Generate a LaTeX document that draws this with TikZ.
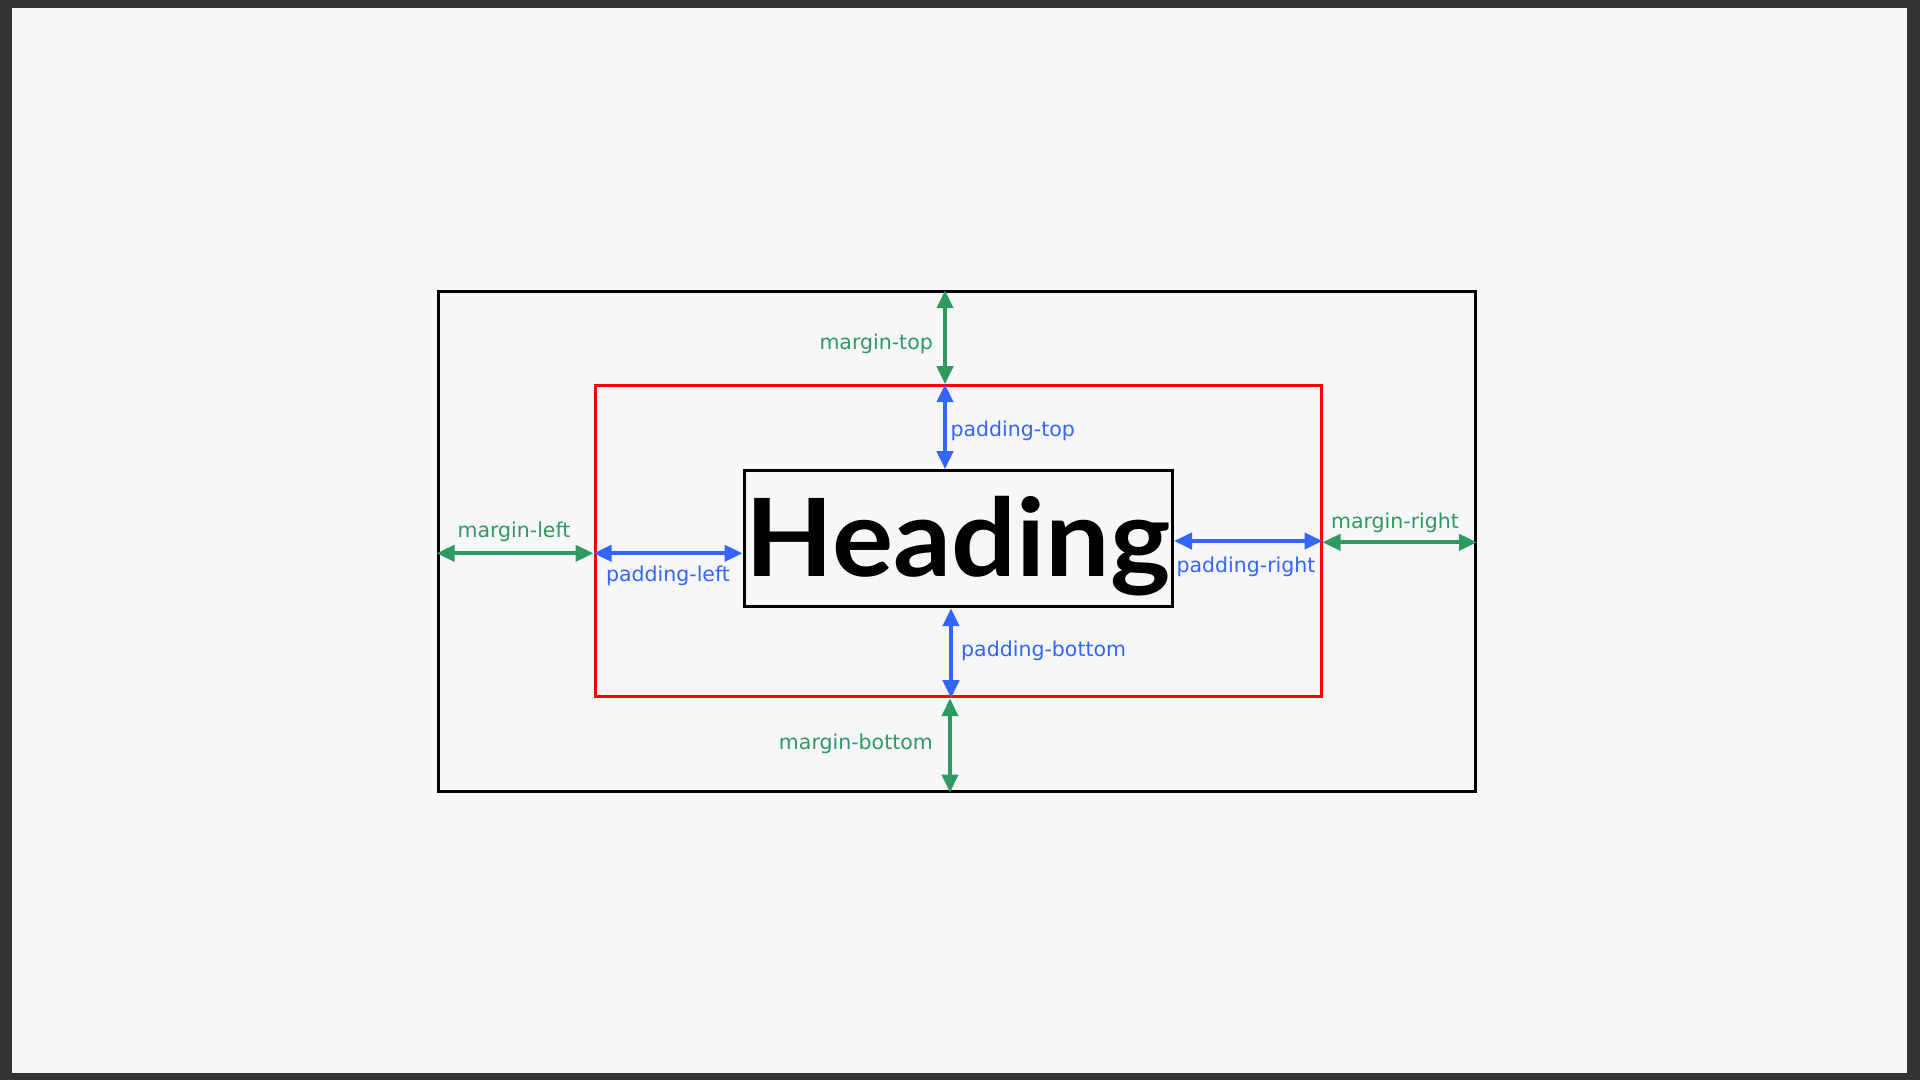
\documentclass[tikz,border=0pt]{standalone}
\usepackage{fontspec}
\setmainfont{DejaVu Sans}
\newfontfamily\headfont{Lato}[FakeStretch=1.06]
\usetikzlibrary{arrows.meta}
\definecolor{mgreen}{HTML}{2E9961}
\definecolor{pblue}{HTML}{3366FF}
\definecolor{pagebg}{HTML}{F7F7F9}
\definecolor{frame}{HTML}{333333}
\begin{document}
\begin{tikzpicture}[x=1pt,y=-1pt,
  tip/.style={{Triangle[length=18pt,width=16pt]}-{Triangle[length=18pt,width=16pt]}},
  mline/.style={draw=mgreen,line width=4pt,tip},
  pline/.style={draw=pblue,line width=4pt,tip},
  mtext/.style={text=mgreen,font=\fontsize{20.5}{24}\selectfont,inner sep=0pt},
  ptext/.style={text=pblue,font=\fontsize{20.5}{24}\selectfont,inner sep=0pt},
  box/.style={draw,line width=3pt,inner sep=0pt}]
\fill[frame](0,0) rectangle (1920,1080);
\fill[pagebg](12,8) rectangle (1907,1073);

\node[box,minimum width=1037.5pt,minimum height=499.3pt] (outer) at (956.75,541.35) {};
\node[box,draw=red,minimum width=726pt,minimum height=311pt] (pad) at (958,541.2) {};
\node[box,minimum width=428.5pt,minimum height=136pt] (head) at (958.25,538.7) {};
\node[anchor=base,inner sep=0pt,font=\headfont\bfseries\fontsize{108}{120}\selectfont] (headtxt) at (958,576.7) {Heading};

\coordinate (mt) at (945,0);
\coordinate (pt) at (945,0);
\coordinate (pb) at (951,0);
\coordinate (mb) at (950,0);
\coordinate (ml) at (0,553.3);
\coordinate (pl) at (0,553.3);
\coordinate (pr) at (0,541);
\coordinate (mr) at (0,542.3);

\draw[mline] (mt |- outer.north) -- (mt |- pad.north);
\draw[pline] (pt |- pad.north) -- (pt |- head.north);
\draw[pline] (pb |- head.south) -- (pb |- pad.south);
\draw[mline] (mb |- pad.south) -- (mb |- outer.south);
\draw[mline] (outer.west |- ml) -- (pad.west |- ml);
\draw[pline] (pad.west |- pl) -- (head.west |- pl);
\draw[pline] (head.east |- pr) -- (pad.east |- pr);
\draw[mline] (pad.east |- mr) -- (outer.east |- mr);

\node[mtext,anchor=base east] (mtl) at (933,349) {margin-top};
\node[ptext,anchor=base east] (ptl) at (1075,436.7) {padding-top};
\node[ptext,anchor=base west] (pbl) at (961,656) {padding-bottom};
\node[mtext,anchor=base east] (mbl) at (933,749.3) {margin-bottom};
\node[mtext,anchor=base] (mll) at (514,537.3) {margin-left};
\node[ptext,anchor=base] (pll) at (668,581.7) {padding-left};
\node[ptext,anchor=base] (prl) at (1246,572.7) {padding-right};
\node[mtext,anchor=base] (mrl) at (1395,528.3) {margin-right};
\end{tikzpicture}
\end{document}
